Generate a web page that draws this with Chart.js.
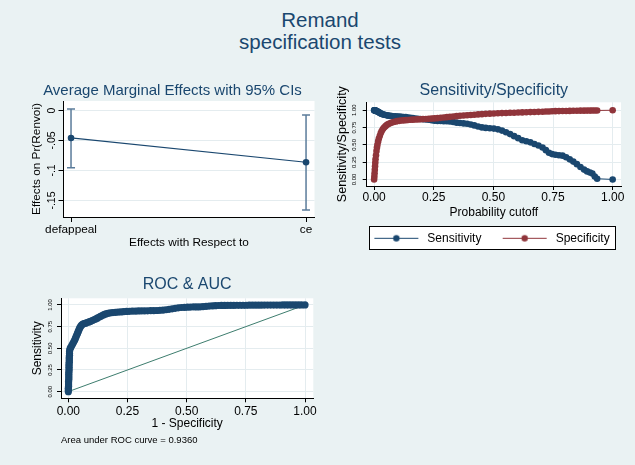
<!DOCTYPE html>
<html lang="en">
<head>
<meta charset="UTF-8">
<title>Remand specification tests</title>
<script src="https://cdn.jsdelivr.net/npm/chart.js"></script>
<style>
    body { margin: 0; width: 635px; height: 465px; overflow: hidden; position: relative; background: #eaf2f3; font-family: "Liberation Sans", Arial, sans-serif; }
    .main-title { position: absolute; left: 0; top: 9px; width: 640px; text-align: center; color: #1a476f; font-size: 20.5px; line-height: 22px; }
    canvas { position: absolute; }
</style>
</head>
<body>

<div class="main-title">Remand<br>specification tests</div>
<canvas id="ame" width="345" height="185" style="left:0;top:75px"></canvas>
<canvas id="sens" width="305" height="180" style="left:330px;top:75px"></canvas>
<canvas id="roc" width="330" height="190" style="left:0;top:270px"></canvas>

<script>
// --- marginal effects ---
const categories = ['defappeal', 'ce'];
const effects = [-0.0458, -0.0863];
const ciLow = [-0.0953, -0.166];
const ciHigh = [0.0025, -0.0075];
const ameTicks = [0, -0.05, -0.1, -0.15];
const ameTickLabels = ['0', '-.05', '-.1', '-.15'];

// --- sensitivity / specificity by cutoff ---
const cutoffs = [
    0, 0.001, 0.002, 0.003, 0.004, 0.005, 0.006, 0.008, 0.010, 0.012,
    0.014, 0.017, 0.020, 0.024, 0.028, 0.032, 0.037, 0.042, 0.048, 0.054,
    0.060, 0.067, 0.074, 0.082, 0.090, 0.098, 0.106, 0.115, 0.124, 0.133,
    0.142, 0.152, 0.162, 0.172, 0.183, 0.194, 0.205, 0.217, 0.229, 0.241,
    0.253, 0.266, 0.279, 0.292, 0.305, 0.318, 0.332, 0.346, 0.360, 0.375,
    0.390, 0.405, 0.420, 0.436, 0.452, 0.468, 0.485, 0.502, 0.519, 0.536,
    0.553, 0.570, 0.587, 0.604, 0.621, 0.638, 0.655, 0.672, 0.689, 0.706,
    0.720, 0.733, 0.746, 0.760, 0.775, 0.790, 0.805, 0.820, 0.835, 0.850,
    0.865, 0.880, 0.893, 0.905, 0.915, 0.925, 0.935, 1.0
];
const sensitivity = [
    1.000, 1.000, 0.999, 0.998, 0.997, 0.996, 0.995, 0.993, 0.990, 0.986,
    0.982, 0.976, 0.970, 0.962, 0.954, 0.947, 0.941, 0.936, 0.931, 0.926,
    0.922, 0.919, 0.916, 0.914, 0.912, 0.910, 0.908, 0.906, 0.903, 0.900,
    0.896, 0.891, 0.886, 0.881, 0.877, 0.873, 0.870, 0.867, 0.863, 0.857,
    0.850, 0.846, 0.844, 0.842, 0.840, 0.837, 0.831, 0.821, 0.815, 0.810,
    0.804, 0.795, 0.781, 0.766, 0.752, 0.745, 0.740, 0.735, 0.724, 0.706,
    0.681, 0.655, 0.626, 0.597, 0.567, 0.551, 0.536, 0.512, 0.490, 0.462,
    0.423, 0.386, 0.366, 0.356, 0.350, 0.344, 0.321, 0.290, 0.258, 0.221,
    0.180, 0.142, 0.116, 0.101, 0.085, 0.042, 0.010, 0.000
];
const specificity = [
    0.000, 0.040, 0.090, 0.140, 0.190, 0.240, 0.290, 0.350, 0.410, 0.460,
    0.500, 0.550, 0.590, 0.630, 0.670, 0.700, 0.730, 0.750, 0.770, 0.790,
    0.800, 0.812, 0.822, 0.831, 0.838, 0.843, 0.847, 0.851, 0.854, 0.857,
    0.860, 0.862, 0.864, 0.866, 0.868, 0.870, 0.872, 0.874, 0.876, 0.879,
    0.882, 0.886, 0.890, 0.895, 0.900, 0.905, 0.910, 0.915, 0.920, 0.924,
    0.928, 0.932, 0.936, 0.940, 0.944, 0.948, 0.951, 0.954, 0.957, 0.959,
    0.961, 0.963, 0.965, 0.967, 0.969, 0.971, 0.973, 0.975, 0.977, 0.979,
    0.981, 0.983, 0.985, 0.987, 0.988, 0.989, 0.990, 0.991, 0.992, 0.993,
    0.994, 0.994, 0.995, 0.995, 0.996, 0.996, 0.997, 1.000
];
const probTicks = [0, 0.25, 0.5, 0.75, 1];
const probTickLabels = ['0.00', '0.25', '0.50', '0.75', '1.00'];

// --- ROC curve ---
const rocFpr = [
    0.000, 0.000, 0.000, 0.001, 0.001, 0.001, 0.001, 0.002, 0.002, 0.002,
    0.002, 0.002, 0.003, 0.003, 0.003, 0.003, 0.003, 0.004, 0.004, 0.004,
    0.004, 0.005, 0.005, 0.005, 0.006, 0.008, 0.011, 0.015, 0.019, 0.023,
    0.027, 0.030, 0.033, 0.036, 0.039, 0.042, 0.045, 0.048, 0.052, 0.056,
    0.061, 0.067, 0.073, 0.080, 0.087, 0.094, 0.101, 0.108, 0.115, 0.122,
    0.129, 0.136, 0.143, 0.150, 0.158, 0.167, 0.177, 0.188, 0.199, 0.210,
    0.222, 0.234, 0.246, 0.258, 0.270, 0.283, 0.296, 0.309, 0.322, 0.335,
    0.348, 0.361, 0.374, 0.387, 0.400, 0.413, 0.426, 0.439, 0.452, 0.465,
    0.478, 0.491, 0.504, 0.517, 0.530, 0.543, 0.556, 0.569, 0.582, 0.595,
    0.608, 0.621, 0.634, 0.647, 0.660, 0.673, 0.686, 0.699, 0.712, 0.725,
    0.738, 0.751, 0.764, 0.777, 0.790, 0.803, 0.816, 0.829, 0.842, 0.855,
    0.868, 0.881, 0.894, 0.907, 0.920, 0.933, 0.946, 0.959, 0.972, 0.985,
    1.000
];
const rocTpr = [
    0.000, 0.020, 0.040, 0.060, 0.080, 0.100, 0.120, 0.140, 0.160, 0.180,
    0.200, 0.220, 0.240, 0.260, 0.280, 0.300, 0.320, 0.340, 0.360, 0.380,
    0.400, 0.420, 0.440, 0.460, 0.480, 0.500, 0.515, 0.535, 0.555, 0.575,
    0.595, 0.615, 0.635, 0.655, 0.675, 0.695, 0.715, 0.735, 0.752, 0.768,
    0.779, 0.785, 0.790, 0.798, 0.804, 0.811, 0.820, 0.829, 0.838, 0.848,
    0.858, 0.868, 0.878, 0.888, 0.897, 0.904, 0.909, 0.912, 0.915, 0.918,
    0.920, 0.923, 0.925, 0.927, 0.929, 0.930, 0.931, 0.932, 0.932, 0.933,
    0.934, 0.935, 0.936, 0.938, 0.941, 0.945, 0.950, 0.955, 0.961, 0.967,
    0.971, 0.973, 0.975, 0.976, 0.977, 0.978, 0.979, 0.981, 0.984, 0.987,
    0.990, 0.992, 0.994, 0.995, 0.995, 0.996, 0.996, 0.996, 0.997, 0.997,
    0.997, 0.997, 0.998, 0.998, 0.998, 0.998, 0.998, 0.999, 0.999, 0.999,
    0.999, 0.999, 0.999, 1.000, 1.000, 1.000, 1.000, 1.000, 1.000, 1.000,
    1.000
];
const diagX = [0, 1];
const diagY = [0, 1];
const aucNote = 'Area under ROC curve = 0.9360';

const navy = '#1a476f';
const maroon = '#90353b';
const gridColor = '#e4ecef';

Chart.defaults.font.family = '"Liberation Sans", Arial, sans-serif';
Chart.defaults.color = '#000';
Chart.defaults.animation = false;
Chart.defaults.plugins.tooltip.enabled = false;

// white plot region
const whitePlot = {
    id: 'whitePlot',
    beforeDraw(chart) {
        const a = chart.chartArea, ctx = chart.ctx;
        ctx.save();
        ctx.fillStyle = '#fff';
        ctx.fillRect(a.left, a.top, a.right - a.left, a.bottom - a.top);
        ctx.restore();
    }
};

function fixWidth(w) {
    return s => { s.width = w; s.paddingTop = 0; s.paddingBottom = 0; };
}
function fixHeight(h, padRight) {
    return s => { s.height = h; s.paddingLeft = 0; s.paddingRight = padRight || 0; };
}
function setTicks(vals) {
    return s => { s.ticks = vals.map(v => ({ value: v })); };
}
function points(xs, ys) {
    return xs.map((x, i) => ({ x: x, y: ys[i] }));
}

// ---------- panel 1 ----------
const ciSets = categories.map((c, i) => ({
    data: [{ x: i + 1, y: ciHigh[i] }, { x: i + 1, y: ciLow[i] }],
    showLine: true,
    borderColor: '#5a7b9a',
    borderWidth: 1.5,
    pointStyle: 'line',
    pointRadius: 4,
    pointBorderWidth: 1.5
}));

new Chart(document.getElementById('ame'), {
    type: 'scatter',
    data: {
        datasets: [{
            data: effects.map((v, i) => ({ x: i + 1, y: v })),
            showLine: true,
            borderColor: navy,
            borderWidth: 1.2,
            pointRadius: 3.3,
            pointBackgroundColor: navy,
            pointBorderWidth: 0
        }].concat(ciSets)
    },
    options: {
        responsive: false,
        layout: { padding: { left: 0, right: 0, top: 0, bottom: 5 } },
        plugins: {
            legend: { display: false },
            title: {
                display: true, text: 'Average Marginal Effects with 95% CIs',
                color: navy, font: { size: 15, weight: 'normal' },
                padding: { top: 6.7, bottom: 1.3 }
            }
        },
        scales: {
            x: {
                type: 'linear', min: 0.968, max: 2.036,
                afterBuildTicks: setTicks([1, 2]),
                afterFit: fixHeight(38, 30.5),
                grid: { drawOnChartArea: false, tickLength: 5, tickColor: '#000' },
                border: { color: '#000' },
                ticks: { padding: 1.1, font: { size: 11.8 }, callback: (v, i) => categories[i] },
                title: { display: true, text: 'Effects with Respect to', font: { size: 11.8 }, padding: { top: 0, bottom: 4.8 } }
            },
            y: {
                min: -0.1775, max: 0.0158,
                afterBuildTicks: setTicks(ameTicks),
                afterFit: fixWidth(63.5),
                grid: { color: gridColor, tickLength: 5, tickColor: '#000' },
                border: { color: '#000' },
                ticks: { minRotation: 90, maxRotation: 90, crossAlign: 'center', padding: -3, font: { size: 10.5 }, callback: (v, i) => ameTickLabels[i] },
                title: { display: true, text: 'Effects on Pr(Renvoi)', font: { size: 11.8 }, padding: { top: 29.6, bottom: 0 } }
            }
        }
    },
    plugins: [whitePlot]
});

// ---------- panel 2 ----------
function legendSymbol(colour) {
    const c = document.createElement('canvas');
    c.width = 57; c.height = 9;
    const g = c.getContext('2d');
    g.strokeStyle = colour; g.lineWidth = 1;
    g.beginPath(); g.moveTo(10, 4.5); g.lineTo(54, 4.5); g.stroke();
    g.fillStyle = colour;
    g.beginPath(); g.arc(32, 4.5, 3.2, 0, Math.PI * 2); g.fill();
    return c;
}
const symbols = [legendSymbol(navy), legendSymbol(maroon)];

// framed white legend box (legend is right-aligned: row ends at right - padding)
const legendFrame = {
    id: 'legendFrame',
    beforeDraw(chart) {
        const lg = chart.legend;
        if (!lg || !lg.lineWidths) return;
        const pad = lg.options.labels.padding;
        const start = lg.right - lg.lineWidths[0];
        const end = lg.right - pad;
        const x0 = start + 10 - 5.5, x1 = end + 5.5;
        const y0 = lg.top + 5, y1 = lg.top + 28;
        const ctx = chart.ctx;
        ctx.save();
        ctx.fillStyle = '#fff';
        ctx.fillRect(x0, y0, x1 - x0, y1 - y0);
        ctx.strokeStyle = '#000';
        ctx.lineWidth = 1;
        ctx.strokeRect(Math.round(x0) + 0.5, Math.round(y0) + 0.5, Math.round(x1 - x0), Math.round(y1 - y0));
        ctx.restore();
    }
};

new Chart(document.getElementById('sens'), {
    type: 'scatter',
    data: {
        datasets: [{
            label: 'Sensitivity',
            data: points(cutoffs, sensitivity),
            showLine: true, borderColor: navy, borderWidth: 1,
            pointRadius: 3.3, pointBackgroundColor: navy, pointBorderWidth: 0,
            order: 1
        }, {
            label: 'Specificity',
            data: points(cutoffs, specificity),
            showLine: true, borderColor: maroon, borderWidth: 1,
            pointRadius: 3.3, pointBackgroundColor: maroon, pointBorderWidth: 0,
            order: 0
        }]
    },
    options: {
        responsive: false,
        layout: { padding: { left: 0, right: 14, top: 0, bottom: 0.7 } },
        plugins: {
            title: {
                display: true, text: 'Sensitivity/Specificity', fullSize: false,
                color: navy, font: { size: 16, weight: 'normal' },
                padding: { top: 6.1, bottom: 2 }
            },
            legend: {
                position: 'bottom', align: 'end',
                labels: {
                    usePointStyle: true, pointStyleWidth: 57, padding: 11.3,
                    font: { size: 12 }, color: '#000',
                    sort: (a, b) => a.datasetIndex - b.datasetIndex,
                    generateLabels(chart) {
                        const items = Chart.defaults.plugins.legend.labels.generateLabels(chart);
                        items.forEach(it => { it.pointStyle = symbols[it.datasetIndex]; });
                        return items;
                    }
                }
            }
        },
        scales: {
            x: {
                type: 'linear', min: -0.031, max: 1.035,
                afterBuildTicks: setTicks(probTicks),
                afterFit: fixHeight(35),
                grid: { color: gridColor, tickLength: 4, tickColor: '#000' },
                border: { color: '#000' },
                ticks: { padding: 0.5, font: { size: 12 }, callback: (v, i) => probTickLabels[i] },
                title: { display: true, text: 'Probability cutoff', font: { size: 12 }, padding: { top: 0, bottom: 1.1 } }
            },
            y: {
                min: -0.095, max: 1.115,
                afterBuildTicks: setTicks(probTicks),
                afterFit: fixWidth(36.7),
                grid: { color: gridColor, tickLength: 4, tickColor: '#000' },
                border: { color: '#000' },
                ticks: { minRotation: 90, maxRotation: 90, crossAlign: 'center', padding: 2.6, font: { size: 6 }, callback: (v, i) => probTickLabels[i] },
                title: { display: true, text: 'Sensitivity/Specificity', font: { size: 12.5 }, padding: { top: 5.5, bottom: 0 } }
            }
        }
    },
    plugins: [whitePlot, legendFrame]
});

// ---------- panel 3 ----------
new Chart(document.getElementById('roc'), {
    type: 'scatter',
    data: {
        datasets: [{
            data: points(rocFpr, rocTpr),
            showLine: true, borderColor: navy, borderWidth: 1,
            pointRadius: 3.6, pointBackgroundColor: navy, pointBorderWidth: 0
        }, {
            data: points(diagX, diagY),
            showLine: true, borderColor: '#3d7d6e', borderWidth: 1,
            pointRadius: 0
        }]
    },
    options: {
        responsive: false,
        layout: { padding: { left: 0, right: 16.7, top: 0, bottom: 14.3 } },
        plugins: {
            legend: { display: false },
            title: {
                display: true, text: 'ROC & AUC', fullSize: false,
                color: navy, font: { size: 16, weight: 'normal' },
                padding: { top: 5.4, bottom: 3.7 }
            },
            subtitle: {
                display: true, text: aucNote, position: 'bottom', align: 'start', fullSize: false,
                color: '#000', font: { size: 9.5 }, padding: { top: 3, bottom: 0 }
            }
        },
        scales: {
            x: {
                type: 'linear', min: -0.031, max: 1.035,
                afterBuildTicks: setTicks(probTicks),
                afterFit: fixHeight(33),
                grid: { color: gridColor, tickLength: 4, tickColor: '#000' },
                border: { color: '#000' },
                ticks: { padding: 2.2, font: { size: 12 }, callback: (v, i) => probTickLabels[i] },
                title: { display: true, text: '1 - Specificity', font: { size: 12 }, padding: { top: 0, bottom: 0.1 } }
            },
            y: {
                min: -0.077, max: 1.077,
                afterBuildTicks: setTicks(probTicks),
                afterFit: fixWidth(61),
                grid: { color: gridColor, tickLength: 4, tickColor: '#000' },
                border: { color: '#000' },
                ticks: { minRotation: 90, maxRotation: 90, crossAlign: 'center', padding: 1.2, font: { size: 6 }, callback: (v, i) => probTickLabels[i] },
                title: { display: true, text: 'Sensitivity', font: { size: 12 }, padding: { top: 30.1, bottom: 0 } }
            }
        }
    },
    plugins: [whitePlot]
});
</script>
</body>
</html>
